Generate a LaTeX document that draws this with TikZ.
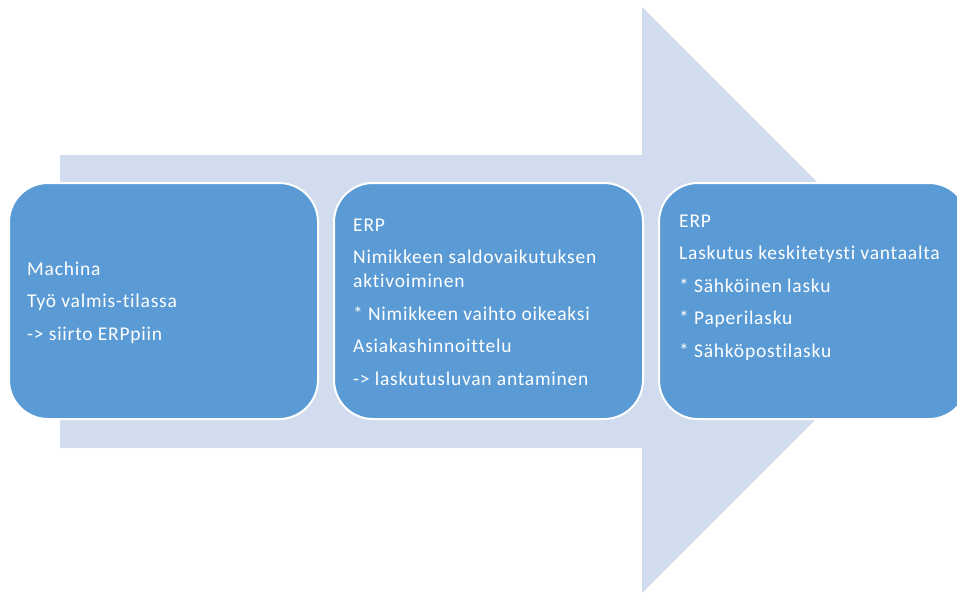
\documentclass[tikz,border=0pt]{standalone}
\usepackage{fontspec}
\setmainfont{Carlito}[Ligatures={NoCommon}, LetterSpace=4]
\definecolor{arrowfill}{RGB}{209,221,239}
\definecolor{boxfill}{RGB}{91,155,213}
\begin{document}
\begin{tikzpicture}[x=1pt,y=-1pt,
  stagebox/.style={draw=white, line width=2pt, fill=boxfill, rounded corners=39pt,
    minimum width=309pt, minimum height=236pt, inner sep=0pt},
  stagetext/.style={anchor=base west, inner sep=0pt, text=white,
    font=\fontsize{19.5}{24}\selectfont}]
  \useasboundingbox (0,0) rectangle (957,594);
  \clip (0,0) rectangle (957,594);
  % big background arrow
  \fill[arrowfill] (60,155) -- (642,155) -- (642,7) -- (935,300) -- (642,593)
    -- (642,448) -- (60,448) -- cycle;
  % process stages
  \node[stagebox] (b1) at (163.5,301) {};
  \node[stagebox] (b2) at (488.5,301) {};
  \node[stagebox] (b3) at (813.5,301) {};
  % stage texts
  \node[stagetext] (t1) at (27,275) {\begin{tabular}[t]{@{}l@{}}
    Machina\\[8.5pt]
    Työ valmis-tilassa\\[8.5pt]
    -> siirto ERPpiin
  \end{tabular}};
  \node[stagetext] (t2) at (353,231) {\begin{tabular}[t]{@{}l@{}}
    ERP\\[8.5pt]
    Nimikkeen saldovaikutuksen\\
    aktivoiminen\\[8.5pt]
    * Nimikkeen vaihto oikeaksi\\[8.5pt]
    Asiakashinnoittelu\\[8.5pt]
    -> laskutusluvan antaminen
  \end{tabular}};
  \node[stagetext] (t3) at (679,227) {\begin{tabular}[t]{@{}l@{}}
    ERP\\[8.5pt]
    Laskutus keskitetysti vantaalta\\[8.5pt]
    * Sähköinen lasku\\[8.5pt]
    * Paperilasku\\[8.5pt]
    * Sähköpostilasku
  \end{tabular}};
\end{tikzpicture}
\end{document}
